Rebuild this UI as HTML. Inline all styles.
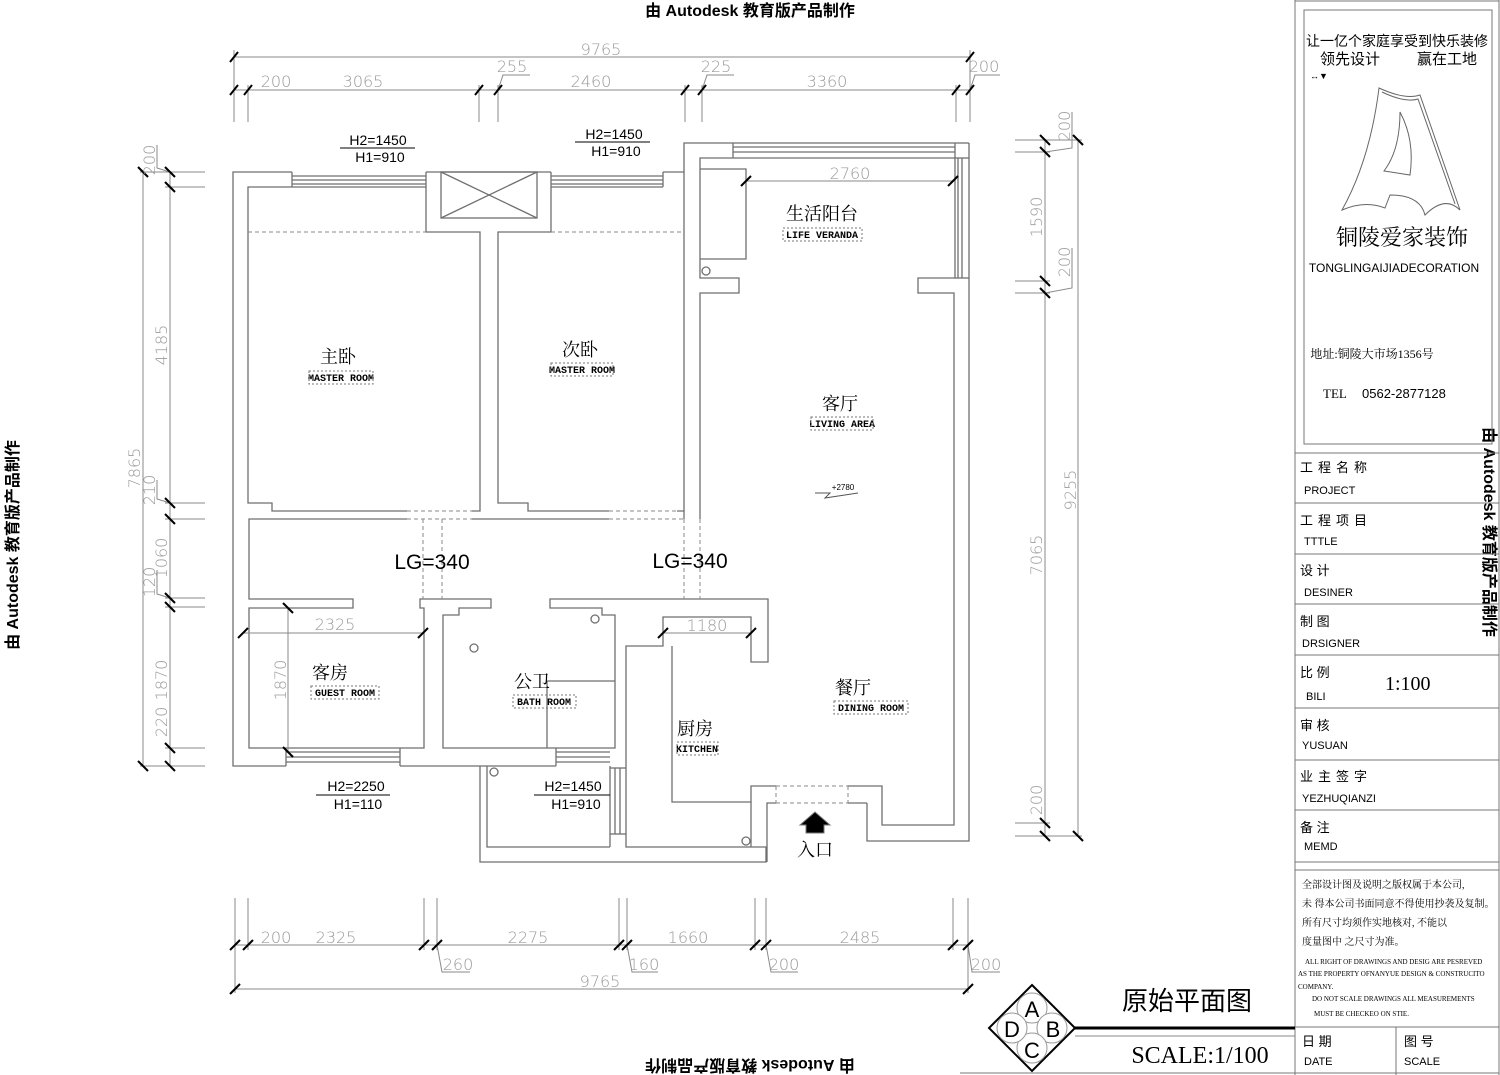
<!DOCTYPE html>
<html><head><meta charset="utf-8"><style>
html,body{margin:0;padding:0;background:#fff;}
svg{display:block;font-family:"Liberation Sans","Noto Sans CJK SC",sans-serif;}
.w{fill:none;stroke:#6f6f6f;stroke-width:1.3}
.d{fill:none;stroke:#8a8a8a;stroke-width:1}
.ds{fill:none;stroke:#888;stroke-width:1;stroke-dasharray:4 3}
.t{stroke:#000;stroke-width:2}
.dt{fill:#9a9a9a;font-size:16px;font-family:"DejaVu Sans","Liberation Sans",sans-serif;font-weight:200}
.lab{fill:#000;font-family:"Liberation Serif","Noto Serif CJK SC",serif;font-size:18px}
.en{fill:#000;font-family:"Liberation Mono","DejaVu Sans Mono",monospace;font-size:10px;font-weight:bold}
.h{fill:#000;font-size:14px;font-family:"Liberation Sans",sans-serif}
.tb{fill:#000;font-size:13px;font-family:"Liberation Sans","Noto Sans CJK SC",sans-serif}
</style></head><body>
<svg width="1500" height="1075" viewBox="0 0 1500 1075" xmlns="http://www.w3.org/2000/svg">
<text x="750" y="16" text-anchor="middle" font-size="16" font-weight="bold" fill="#000" font-family="Liberation Sans,Noto Sans CJK SC,sans-serif">由 Autodesk 教育版产品制作</text>
<text transform="translate(750,1060) rotate(180)" text-anchor="middle" font-size="16" font-weight="bold" fill="#000" font-family="Liberation Sans,Noto Sans CJK SC,sans-serif">由 Autodesk 教育版产品制作</text>
<text transform="translate(18,545) rotate(-90)" text-anchor="middle" font-size="16" font-weight="bold" fill="#000" font-family="Liberation Sans,Noto Sans CJK SC,sans-serif">由 Autodesk 教育版产品制作</text>
<text transform="translate(1484,532) rotate(90)" text-anchor="middle" font-size="16" font-weight="bold" fill="#000" font-family="Liberation Sans,Noto Sans CJK SC,sans-serif">由 Autodesk 教育版产品制作</text>

<g class="d">
<line x1="234" y1="57" x2="970" y2="57"/>
<line x1="234" y1="90" x2="970" y2="90"/>
<line x1="234" y1="50" x2="234" y2="122"/><line x1="248" y1="85" x2="248" y2="122"/>
<line x1="479" y1="85" x2="479" y2="122"/><line x1="498" y1="85" x2="498" y2="122"/>
<line x1="685" y1="85" x2="685" y2="122"/><line x1="702" y1="85" x2="702" y2="122"/>
<line x1="956" y1="85" x2="956" y2="122"/><line x1="970" y1="50" x2="970" y2="122"/>
<polyline points="498,90 503,75 530,75"/><polyline points="702,90 707,75 734,75"/><polyline points="970,90 975,75 1000,75"/>
</g>
<g class="t">
<line x1="230" y1="62" x2="238" y2="52"/><line x1="966" y1="62" x2="974" y2="52"/>
<line x1="230" y1="95" x2="238" y2="85"/><line x1="244" y1="95" x2="252" y2="85"/>
<line x1="475" y1="95" x2="483" y2="85"/><line x1="494" y1="95" x2="502" y2="85"/>
<line x1="681" y1="95" x2="689" y2="85"/><line x1="698" y1="95" x2="706" y2="85"/>
<line x1="952" y1="95" x2="960" y2="85"/><line x1="966" y1="95" x2="974" y2="85"/>
</g>
<g class="dt">
<text x="601" y="55" text-anchor="middle">9765</text>
<text x="276" y="87" text-anchor="middle">200</text><text x="363" y="87" text-anchor="middle">3065</text>
<text x="512" y="72" text-anchor="middle">255</text><text x="591" y="87" text-anchor="middle">2460</text>
<text x="716" y="72" text-anchor="middle">225</text><text x="827" y="87" text-anchor="middle">3360</text>
<text x="984" y="72" text-anchor="middle">200</text>
</g>

<g class="d">
<line x1="143" y1="172" x2="143" y2="766"/>
<line x1="170" y1="172" x2="170" y2="766"/>
<line x1="140" y1="172" x2="205" y2="172"/><line x1="165" y1="187" x2="205" y2="187"/>
<line x1="165" y1="503" x2="205" y2="503"/><line x1="165" y1="519" x2="205" y2="519"/>
<line x1="165" y1="598" x2="205" y2="598"/><line x1="165" y1="607" x2="205" y2="607"/>
<line x1="165" y1="748" x2="205" y2="748"/><line x1="140" y1="766" x2="205" y2="766"/>
<polyline points="170,172 157,168 157,145"/><polyline points="170,503 157,499 157,480"/><polyline points="170,598 157,594 157,570"/>
</g>
<g class="t">
<line x1="138" y1="167" x2="148" y2="177"/><line x1="165" y1="167" x2="175" y2="177"/><line x1="165" y1="182" x2="175" y2="192"/>
<line x1="165" y1="498" x2="175" y2="508"/><line x1="165" y1="514" x2="175" y2="524"/>
<line x1="165" y1="593" x2="175" y2="603"/><line x1="165" y1="602" x2="175" y2="612"/>
<line x1="165" y1="743" x2="175" y2="753"/><line x1="165" y1="761" x2="175" y2="771"/><line x1="138" y1="761" x2="148" y2="771"/>
</g>
<g class="dt">
<text transform="translate(155,160) rotate(-90)" text-anchor="middle">200</text>
<text transform="translate(167,345) rotate(-90)" text-anchor="middle">4185</text>
<text transform="translate(140,468) rotate(-90)" text-anchor="middle">7865</text>
<text transform="translate(155,490) rotate(-90)" text-anchor="middle">210</text>
<text transform="translate(167,558) rotate(-90)" text-anchor="middle">1060</text>
<text transform="translate(155,582) rotate(-90)" text-anchor="middle">120</text>
<text transform="translate(167,680) rotate(-90)" text-anchor="middle">1870</text>
<text transform="translate(167,722) rotate(-90)" text-anchor="middle">220</text>
</g>

<g class="d">
<line x1="1045" y1="140" x2="1045" y2="836"/>
<line x1="1078" y1="140" x2="1078" y2="836"/>
<line x1="1015" y1="140" x2="1082" y2="140"/><line x1="1015" y1="152" x2="1050" y2="152"/>
<line x1="1015" y1="281" x2="1050" y2="281"/><line x1="1015" y1="293" x2="1050" y2="293"/>
<line x1="1015" y1="823" x2="1050" y2="823"/><line x1="1015" y1="836" x2="1082" y2="836"/>
<polyline points="1045,152 1072,148 1072,112"/><polyline points="1045,293 1072,288 1072,248"/>
</g>
<g class="t">
<line x1="1040" y1="135" x2="1050" y2="145"/><line x1="1040" y1="147" x2="1050" y2="157"/>
<line x1="1073" y1="135" x2="1083" y2="145"/>
<line x1="1040" y1="276" x2="1050" y2="286"/><line x1="1040" y1="288" x2="1050" y2="298"/>
<line x1="1040" y1="818" x2="1050" y2="828"/><line x1="1040" y1="831" x2="1050" y2="841"/>
<line x1="1073" y1="831" x2="1083" y2="841"/>
</g>
<g class="dt">
<text transform="translate(1070,126) rotate(-90)" text-anchor="middle">200</text>
<text transform="translate(1042,217) rotate(-90)" text-anchor="middle">1590</text>
<text transform="translate(1070,262) rotate(-90)" text-anchor="middle">200</text>
<text transform="translate(1076,490) rotate(-90)" text-anchor="middle">9255</text>
<text transform="translate(1042,555) rotate(-90)" text-anchor="middle">7065</text>
<text transform="translate(1042,800) rotate(-90)" text-anchor="middle">200</text>
</g>

<g class="d">
<line x1="235" y1="945" x2="968" y2="945"/>
<line x1="235" y1="989" x2="968" y2="989"/>
<line x1="235" y1="898" x2="235" y2="993"/><line x1="248" y1="898" x2="248" y2="950"/>
<line x1="424" y1="898" x2="424" y2="950"/><line x1="437" y1="898" x2="437" y2="950"/>
<line x1="619" y1="898" x2="619" y2="950"/><line x1="627" y1="898" x2="627" y2="950"/>
<line x1="755" y1="898" x2="755" y2="950"/><line x1="766" y1="898" x2="766" y2="950"/>
<line x1="953" y1="898" x2="953" y2="950"/><line x1="968" y1="898" x2="968" y2="993"/>
<polyline points="437,945 442,972 470,972"/><polyline points="627,945 632,972 658,972"/>
<polyline points="766,945 771,972 798,972"/><polyline points="968,945 972,972 1000,972"/>
</g>
<g class="t">
<line x1="230" y1="950" x2="240" y2="940"/><line x1="243" y1="950" x2="253" y2="940"/>
<line x1="419" y1="950" x2="429" y2="940"/><line x1="432" y1="950" x2="442" y2="940"/>
<line x1="614" y1="950" x2="624" y2="940"/><line x1="622" y1="950" x2="632" y2="940"/>
<line x1="750" y1="950" x2="760" y2="940"/><line x1="761" y1="950" x2="771" y2="940"/>
<line x1="948" y1="950" x2="958" y2="940"/><line x1="963" y1="950" x2="973" y2="940"/>
<line x1="230" y1="994" x2="240" y2="984"/><line x1="963" y1="994" x2="973" y2="984"/>
</g>
<g class="dt">
<text x="276" y="943" text-anchor="middle">200</text><text x="336" y="943" text-anchor="middle">2325</text>
<text x="528" y="943" text-anchor="middle">2275</text><text x="688" y="943" text-anchor="middle">1660</text>
<text x="860" y="943" text-anchor="middle">2485</text>
<text x="458" y="970" text-anchor="middle">260</text><text x="644" y="970" text-anchor="middle">160</text>
<text x="784" y="970" text-anchor="middle">200</text><text x="986" y="970" text-anchor="middle">200</text>
<text x="600" y="987" text-anchor="middle">9765</text>
</g>

<g class="w">
<polyline points="292,172 233,172 233,766 286,766"/>
<line x1="400" y1="766" x2="556" y2="766"/>
<line x1="426" y1="172" x2="551" y2="172"/>
<polyline points="663,172 684,172 684,143 733,143"/>
<line x1="955" y1="143" x2="969" y2="143"/>
<polyline points="969,143 969,841 867,841 867,803"/>
<polyline points="292,187 248,187 248,503 272,503 272,511 407,511"/>
<polyline points="472,511 480,511 480,232 426,232 426,172"/>
<line x1="426" y1="187" x2="292" y2="187"/>
<rect x="441" y="172" width="96" height="46"/>
<line x1="441" y1="172" x2="537" y2="218"/><line x1="537" y1="172" x2="441" y2="218"/>
<polyline points="551,172 551,232 498,232 498,503 528,503 528,511 609,511"/>
<polyline points="677,511 684,511 684,172"/>
<line x1="551" y1="187" x2="663" y2="187"/>
<polyline points="407,519 249,519 249,599 353,599 353,608 249,608 249,748 424,748 424,608 420,608 420,599 491,599 491,608 459,608 459,615 443,615 443,748 615,748 615,615 602,615 602,608 550,608 550,599 768,599 768,662 751,662 751,617 663,617 663,646 626,646 626,847 766,847 766,862 480,862 480,766"/>
<line x1="472" y1="519" x2="609" y2="519"/>
<line x1="684" y1="511" x2="684" y2="519"/>
<polyline points="700,519 700,293 739,293 739,278 700,278 700,158 733,158"/>
<polyline points="700,169 746,169 746,259 700,259"/>
<circle cx="706" cy="271" r="4"/>
<line x1="733" y1="143" x2="955" y2="143"/><line x1="733" y1="147" x2="955" y2="147"/><line x1="733" y1="152" x2="955" y2="152"/><line x1="733" y1="158" x2="955" y2="158"/>
<line x1="733" y1="143" x2="733" y2="158"/>
<polyline points="955,143 955,278 918,278 918,293 954,293 954,825 882,825 882,786 848,786"/>
<line x1="955" y1="158" x2="969" y2="158"/>
<line x1="958" y1="158" x2="958" y2="278"/><line x1="962" y1="158" x2="962" y2="278"/><line x1="955" y1="278" x2="969" y2="278"/>
<polyline points="672,646 672,802 751,802 751,786 776,786"/>
<polyline points="751,802 751,847"/>
<polyline points="767,862 767,803 776,803"/>
<line x1="848" y1="803" x2="867" y2="803"/>
<circle cx="746" cy="841" r="4"/>
<polyline points="547,748 547,681 615,681"/>
<circle cx="474" cy="648" r="4"/><circle cx="595" cy="619" r="4"/>
<polyline points="487,766 487,847 610,847"/><line x1="610" y1="766" x2="610" y2="847"/>
<circle cx="494" cy="772" r="4"/>
<line x1="292" y1="176" x2="426" y2="176"/><line x1="292" y1="180" x2="426" y2="180"/><line x1="292" y1="184" x2="426" y2="184"/><line x1="292" y1="172" x2="292" y2="187"/>
<line x1="551" y1="176" x2="663" y2="176"/><line x1="551" y1="180" x2="663" y2="180"/><line x1="551" y1="184" x2="663" y2="184"/><line x1="663" y1="172" x2="663" y2="187"/>
<line x1="286" y1="752" x2="400" y2="752"/><line x1="286" y1="757" x2="400" y2="757"/><line x1="286" y1="762" x2="400" y2="762"/><line x1="286" y1="748" x2="286" y2="766"/><line x1="400" y1="748" x2="400" y2="766"/>
<line x1="556" y1="752" x2="610" y2="752"/><line x1="556" y1="757" x2="610" y2="757"/><line x1="556" y1="762" x2="610" y2="762"/><line x1="556" y1="748" x2="556" y2="766"/>
<line x1="615" y1="768" x2="615" y2="834"/><line x1="620" y1="768" x2="620" y2="834"/><line x1="610" y1="768" x2="626" y2="768"/><line x1="610" y1="834" x2="626" y2="834"/>
</g>
<g class="ds">
<line x1="248" y1="232" x2="426" y2="232"/><line x1="551" y1="232" x2="684" y2="232"/>
<line x1="407" y1="511" x2="472" y2="511"/><line x1="407" y1="519" x2="472" y2="519"/>
<line x1="609" y1="511" x2="677" y2="511"/><line x1="609" y1="519" x2="684" y2="519"/>
<line x1="423" y1="519" x2="423" y2="599"/><line x1="442" y1="519" x2="442" y2="599"/>
<line x1="684" y1="519" x2="684" y2="599"/><line x1="700" y1="519" x2="700" y2="599"/>
<line x1="776" y1="786" x2="848" y2="786"/><line x1="776" y1="803" x2="848" y2="803"/>
<line x1="776" y1="786" x2="776" y2="803"/><line x1="848" y1="786" x2="848" y2="803"/>
</g>
<g class="d">
<line x1="243" y1="633" x2="423" y2="633"/><line x1="288" y1="608" x2="288" y2="752"/>
<line x1="663" y1="633" x2="751" y2="633"/>
<line x1="746" y1="181" x2="953" y2="181"/>
</g>
<g class="t">
<line x1="238" y1="638" x2="248" y2="628"/><line x1="418" y1="638" x2="428" y2="628"/>
<line x1="283" y1="603" x2="293" y2="613"/><line x1="283" y1="747" x2="293" y2="757"/>
<line x1="658" y1="638" x2="668" y2="628"/><line x1="746" y1="638" x2="756" y2="628"/>
<line x1="741" y1="186" x2="751" y2="176"/><line x1="948" y1="186" x2="958" y2="176"/>
</g>
<g class="dt">
<text x="335" y="630" text-anchor="middle">2325</text>
<text transform="translate(286,680) rotate(-90)" text-anchor="middle">1870</text>
<text x="707" y="631" text-anchor="middle">1180</text>
<text x="850" y="179" text-anchor="middle">2760</text>
</g>

<g class="h" text-anchor="middle">
<text x="378" y="145">H2=1450</text><line x1="340" y1="148" x2="415" y2="148" stroke="#000"/><text x="380" y="162">H1=910</text>
<text x="614" y="139">H2=1450</text><line x1="575" y1="142" x2="650" y2="142" stroke="#000"/><text x="616" y="156">H1=910</text>
<text x="356" y="791">H2=2250</text><line x1="316" y1="795" x2="390" y2="795" stroke="#000"/><text x="358" y="809">H1=110</text>
<text x="573" y="791">H2=1450</text><line x1="534" y1="795" x2="610" y2="795" stroke="#000"/><text x="576" y="809">H1=910</text>
</g>
<text x="432" y="569" font-size="21" text-anchor="middle" fill="#000">LG=340</text>
<text x="690" y="568" font-size="21" text-anchor="middle" fill="#000">LG=340</text>

<g class="lab" text-anchor="middle">
<text x="338" y="363">主卧</text><text x="580" y="356">次卧</text>
<text x="822" y="220">生活阳台</text><text x="840" y="410">客厅</text>
<text x="330" y="679">客房</text><text x="532" y="688">公卫</text>
<text x="695" y="735">厨房</text><text x="853" y="694">餐厅</text>
</g>
<g class="en" text-anchor="middle">
<text x="341" y="381">MASTER ROOM</text><rect x="309" y="371" width="64" height="13" fill="none" stroke="#777" stroke-dasharray="2 2"/>
<text x="582" y="373">MASTER ROOM</text><rect x="551" y="363" width="62" height="13" fill="none" stroke="#777" stroke-dasharray="2 2"/>
<text x="822" y="238">LIFE VERANDA</text><rect x="783" y="228" width="79" height="13" fill="none" stroke="#777" stroke-dasharray="2 2"/>
<text x="842" y="427">LIVING AREA</text><rect x="811" y="417" width="62" height="13" fill="none" stroke="#777" stroke-dasharray="2 2"/>
<text x="345" y="696">GUEST ROOM</text><rect x="311" y="686" width="68" height="13" fill="none" stroke="#777" stroke-dasharray="2 2"/>
<text x="544" y="705">BATH ROOM</text><rect x="513" y="695" width="63" height="13" fill="none" stroke="#777" stroke-dasharray="2 2"/>
<text x="697" y="752">KITCHEN</text><rect x="677" y="742" width="41" height="13" fill="none" stroke="#777" stroke-dasharray="2 2"/>
<text x="871" y="711">DINING ROOM</text><rect x="834" y="701" width="74" height="13" fill="none" stroke="#777" stroke-dasharray="2 2"/>
</g>
<polyline points="815,493 830,493 825,498 858,493" fill="none" stroke="#555"/>
<text x="843" y="490" font-size="8" fill="#000" text-anchor="middle">+2780</text>
<polygon points="815,812 800,825 806,825 806,833 824,833 824,825 830,825" fill="#000" stroke="#777"/>
<text x="815" y="856" class="lab" font-size="14" text-anchor="middle">入口</text>

<g fill="none" stroke="#777">
<line x1="1295" y1="0" x2="1295" y2="1075"/>
<line x1="1499" y1="0" x2="1499" y2="1075"/>
<line x1="1295" y1="1" x2="1499" y2="1"/>
<rect x="1304" y="10" width="188" height="434"/>
<line x1="1295" y1="453" x2="1499" y2="453"/>
<line x1="1295" y1="503" x2="1499" y2="503"/><line x1="1295" y1="554" x2="1499" y2="554"/>
<line x1="1295" y1="604" x2="1499" y2="604"/><line x1="1295" y1="655" x2="1499" y2="655"/>
<line x1="1295" y1="708" x2="1499" y2="708"/><line x1="1295" y1="760" x2="1499" y2="760"/>
<line x1="1295" y1="810" x2="1499" y2="810"/><line x1="1295" y1="862" x2="1499" y2="862"/>
<line x1="1295" y1="870" x2="1499" y2="870"/>
<line x1="1295" y1="1027" x2="1499" y2="1027"/>
<line x1="1396" y1="1027" x2="1396" y2="1075"/>
<line x1="960" y1="1073" x2="1499" y2="1073"/>
</g>
<g class="tb">
<text x="1397" y="46" text-anchor="middle" font-size="14">让一亿个家庭享受到快乐装修</text>
<text x="1350" y="64" text-anchor="middle" font-size="15">领先设计</text>
<text x="1447" y="64" text-anchor="middle" font-size="15">赢在工地</text>
<text x="1310" y="79" font-size="9">↔▼</text>
<text x="1402" y="245" text-anchor="middle" font-size="22" font-family="Liberation Serif,Noto Serif CJK SC,serif">铜陵爱家装饰</text>
<text x="1394" y="272" text-anchor="middle" font-size="12">TONGLINGAIJIADECORATION</text>
<text x="1372" y="358" text-anchor="middle" font-size="12" font-family="Liberation Serif,Noto Serif CJK SC,serif">地址:铜陵大市场1356号</text>
<text x="1323" y="398" font-size="13" font-family="Liberation Serif,serif">TEL</text>
<text x="1362" y="398" font-size="13">0562-2877128</text>
<text x="1300" y="472" letter-spacing="5">工程名称</text><text x="1304" y="494" font-size="11">PROJECT</text>
<text x="1300" y="525" letter-spacing="5">工程项目</text><text x="1304" y="545" font-size="11">TTTLE</text>
<text x="1300" y="575">设  计</text><text x="1304" y="596" font-size="11">DESINER</text>
<text x="1300" y="626">制  图</text><text x="1302" y="647" font-size="11">DRSIGNER</text>
<text x="1300" y="677">比  例</text><text x="1306" y="700" font-size="11">BILI</text>
<text x="1385" y="690" font-size="20" font-family="Liberation Serif,serif">1:100</text>
<text x="1300" y="730">审  核</text><text x="1302" y="749" font-size="11">YUSUAN</text>
<text x="1300" y="781" letter-spacing="5">业主签字</text><text x="1302" y="802" font-size="11">YEZHUQIANZI</text>
<text x="1300" y="832">备  注</text><text x="1304" y="850" font-size="11">MEMD</text>
<g font-family="Liberation Serif,Noto Serif CJK SC,serif" font-size="10">
<text x="1302" y="888">全部设计图及说明之版权属于本公司,</text>
<text x="1302" y="907">未 得本公司书面同意不得使用抄袭及复制。</text>
<text x="1302" y="926">所有尺寸均须作实地核对, 不能以</text>
<text x="1302" y="945">度量图中 之尺寸为准。</text>
<g font-size="7">
<text x="1305" y="964">ALL RIGHT OF DRAWINGS AND DESIG ARE PESREVED</text>
<text x="1298" y="976">AS THE PROPERTY OFNANYUE DESIGN &amp; CONSTRUCITO</text>
<text x="1298" y="989">COMPANY.</text>
<text x="1312" y="1001">DO NOT SCALE DRAWINGS ALL MEASUREMENTS</text>
<text x="1314" y="1016">MUST BE CHECKEO ON STIE.</text>
</g>
</g>
<text x="1302" y="1046">日  期</text><text x="1304" y="1065" font-size="11">DATE</text>
<text x="1404" y="1046">图  号</text><text x="1404" y="1065" font-size="11">SCALE</text>
</g>
<g fill="none" stroke="#666" stroke-width="1">
<path d="M1379,88 Q1405,100 1420,95 L1460,210 Q1445,195 1425,215 Q1420,195 1390,195 L1385,208 Q1365,200 1342,210 Q1370,160 1379,88 Z"/>
<path d="M1382,92 Q1405,103 1418,99 L1455,204"/>
<path d="M1400,112 Q1415,140 1410,175 L1384,171 Q1400,150 1400,112 Z"/>
</g>
<text x="1187" y="1010" text-anchor="middle" font-size="26" fill="#000" font-family="Liberation Sans,Noto Sans CJK SC,sans-serif">原始平面图</text>
<line x1="1075" y1="1028" x2="1295" y2="1028" stroke="#000" stroke-width="3"/>
<line x1="1075" y1="1036" x2="1295" y2="1036" stroke="#888"/>
<text x="1200" y="1063" text-anchor="middle" font-size="24" fill="#000" font-family="Liberation Serif,serif">SCALE:1/100</text>
<g>
<polygon points="1032,985 1075,1028 1032,1071 989,1028" fill="#fff" stroke="#000" stroke-width="2"/>
<g fill="#fff" stroke="#999">
<circle cx="1032" cy="1008" r="15"/><circle cx="1052" cy="1028" r="15"/><circle cx="1032" cy="1048" r="15"/><circle cx="1012" cy="1028" r="15"/>
</g>
<g font-size="22" text-anchor="middle" fill="#000">
<text x="1032" y="1017">A</text><text x="1053" y="1037">B</text><text x="1032" y="1058">C</text><text x="1012" y="1037">D</text>
</g>
</g>
</svg>
</body></html>
